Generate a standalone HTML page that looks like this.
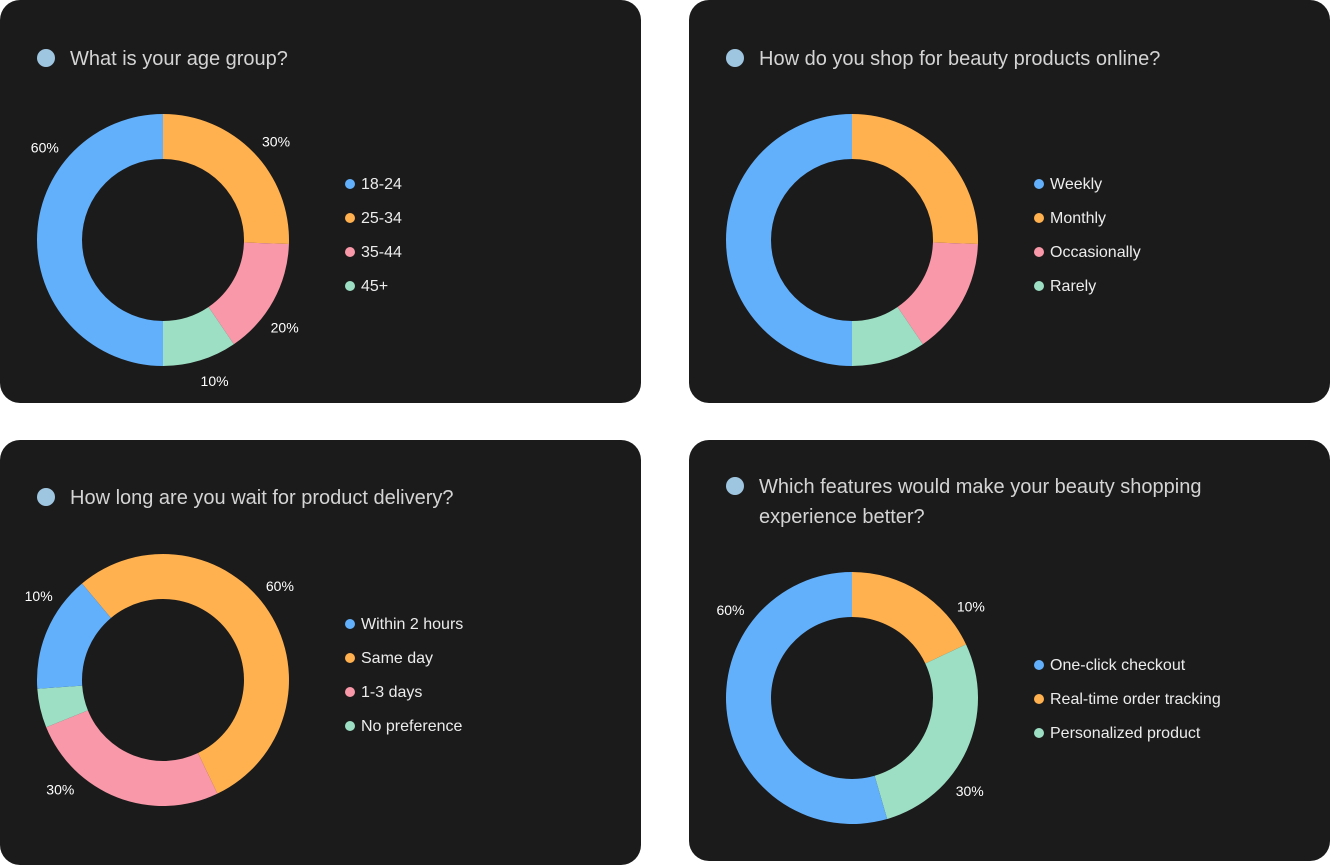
<!DOCTYPE html>
<html><head><meta charset="utf-8">
<style>
html,body{margin:0;padding:0;background:#fff;width:1330px;height:865px;overflow:hidden}
svg{display:block}
text{font-family:"Liberation Sans",sans-serif}
</style></head>
<body>
<svg id="root" width="1330" height="865">
<rect x="0" y="0" width="641" height="403" rx="20" fill="#1b1b1b"/>
<rect x="689" y="0" width="641" height="403" rx="20" fill="#1b1b1b"/>
<rect x="0" y="440" width="641" height="425" rx="20" fill="#1b1b1b"/>
<rect x="689" y="440" width="641" height="421" rx="20" fill="#1b1b1b"/>
</svg>
<script>
const colors=["#62b0fc","#ffb04f","#f898a8","#9ddfc4"];
// Chart 1
const c1Cats=["18-24","25-34","35-44","45+"];
const c1Vals=[50,25.5,15,9.5];
const c1Labels=["60%","30%","20%","10%"];
// Chart 2
const c2Cats=["Weekly","Monthly","Occasionally","Rarely"];
const c2Vals=[50,25.5,15,9.5];
// Chart 3
const c3Cats=["Within 2 hours","Same day","1-3 days","No preference"];
const c3Vals=[15,54,26,5];
const c3Labels=["10%","60%","30%",""];
// Chart 4
const c4Cats=["One-click checkout","Real-time order tracking","Personalized product"];
const c4Vals=[54.5,18,27.5];
const c4Labels=["60%","10%","30%"];

const NS="http://www.w3.org/2000/svg";
const root=document.getElementById('root');
function mk(tag,attrs,parent){const e=document.createElementNS(NS,tag);for(const k in attrs)e.setAttribute(k,attrs[k]);(parent||root).appendChild(e);return e;}
function pt(cx,cy,r,deg){const a=(deg-90)*Math.PI/180;return [cx+r*Math.cos(a),cy+r*Math.sin(a)];}

function title(x,y,lines){
  const d=mk('circle',{cx:x,cy:y,r:9,fill:'#9fc6e1'});
  
  
  lines.forEach((l,i)=>{
    const t=mk('text',{x:x+24,y:y+7+i*30,fill:'#d4d4d4','font-size':20});
    t.textContent=l;
    
    
  });
}
function donut(cx,cy,cats,vals,cols,order,startDeg,labels,labelOff,lx,ly){
  const R=126,r=81;const total=vals.reduce((a,b)=>a+b,0);
  let ang=startDeg;const mids={};
  order.forEach(i=>{
    const sweep=vals[i]/total*360;const a0=ang,a1=ang+sweep;
    const large=sweep>180?1:0;
    const p0=pt(cx,cy,R,a0),p1=pt(cx,cy,R,a1),q1=pt(cx,cy,r,a1),q0=pt(cx,cy,r,a0);
    const p=mk('path',{d:`M${p0[0]},${p0[1]}A${R},${R} 0 ${large} 1 ${p1[0]},${p1[1]}L${q1[0]},${q1[1]}A${r},${r} 0 ${large} 0 ${q0[0]},${q0[1]}Z`,fill:cols[i]});
    
    
    mids[i]=(a0+a1)/2;ang=a1;
  });
  if(labels){labels.forEach((l,i)=>{
    if(!l)return;const m=mids[i]+(labelOff?labelOff[i]:0);const q=pt(cx,cy,R+24,m);
    const t=mk('text',{x:q[0],y:q[1]+5,fill:'#fff','font-size':14,'text-anchor':'middle'});
    t.textContent=l;
    
    
  });}
  cats.forEach((c,i)=>{
    const y=ly+i*34;
    const d=mk('circle',{cx:lx,cy:y,r:5,fill:cols[i]});
    
    
    const t=mk('text',{x:lx+11,y:y+5,fill:'#ececec','font-size':16});
    t.textContent=c;
    
    
  });
}
title(46,58,["What is your age group?"]);
donut(163,240,c1Cats,c1Vals,colors,[1,2,3,0],0,c1Labels,[38,3,7,-3],350,184);
title(735,58,["How do you shop for beauty products online?"]);
donut(852,240,c2Cats,c2Vals,colors,[1,2,3,0],0,null,null,1039,184);
title(46,497,["How long are you wait for product delivery?"]);
donut(163,680,c3Cats,c3Vals,colors,[1,2,3,0],320,c3Labels,[11,-6,22,0],350,624);
title(735,486,["Which features would make your beauty shopping","experience better?"]);
donut(852,698,c4Cats,c4Vals,[colors[0],colors[1],colors[3]],[1,2,0],0,c4Labels,[44,20,14],1039,665);
</script>
</body></html>
